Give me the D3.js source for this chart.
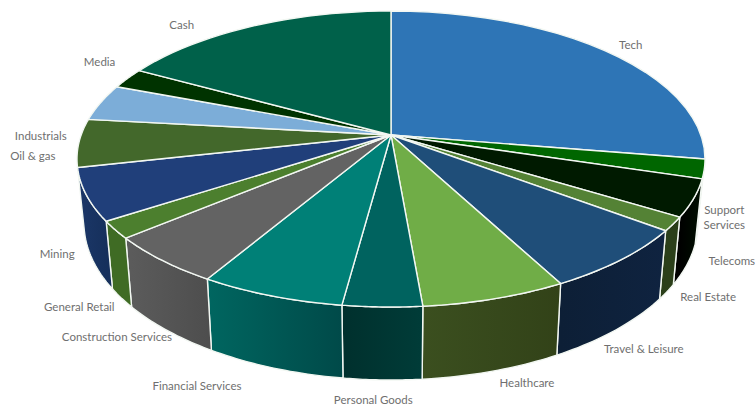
<!DOCTYPE html>
<html>
<head>
<meta charset="utf-8">
<script src="https://cdn.jsdelivr.net/npm/d3@7/dist/d3.min.js"></script>
<style>
  html, body { margin: 0; padding: 0; background: #fff; overflow: hidden; }
  svg { display: block; }
  text { font-family: Lato, "Open Sans", sans-serif; font-size: 11.5px; fill: #6f6f6f; }
</style>
</head>
<body>
<svg id="chart" width="756" height="407"></svg>
<script>
// Portfolio weights by sector, clockwise from twelve o'clock (percent)
const sectors = ["Tech", "Support Services", "Telecoms", "Real Estate", "Travel & Leisure",
  "Healthcare", "Personal Goods", "Financial Services", "Construction Services",
  "General Retail", "Mining", "Oil & gas", "Industrials", "Media", "Cash"];
const weights = [27.6, 2.1, 4.05, 1.5, 7.0, 6.4, 3.5, 6.4, 5.4, 1.9, 5.7, 5.25, 4.0, 2.25, 17.0];

const topColors = ["#2e75b6", "#006600", "#001a00", "#548235", "#1f4e79",
  "#70ad47", "#00635f", "#008077", "#636363", "#4c7f2e",
  "#203f7a", "#43682b", "#7cadd8", "#003300", "#00614a"];
const wallLeft = ["#1f5080", "#003300", "#000000", "#2b3f1a", "#0d1f36",
  "#3b4f1f", "#00302d", "#006660", "#5c5c5c", "#3f6b24",
  "#1b3768", "#2c451b", "#527599", "#001a00", "#00402f"];
const wallRight = ["#1f5080", "#003300", "#001000", "#2b3f1a", "#0f2340",
  "#324218", "#003c38", "#004a49", "#4e4e4e", "#3f6b24",
  "#16305c", "#2c451b", "#527599", "#001a00", "#00402f"];

// Label placement relative to each slice's rim midpoint
const labelDx = [26, 20, 38, 35, 23, 32, -9, -74, -45, -36, -29, -46, -60, -28, -71];
const labelDy = [-6, 49, 63, 73, 89, 84, 93, 90, 77, 77, 59, 13, 33, -16, -1];
const labelLines = { "Support Services": ["Support", "Services"] };

const svg = d3.select("#chart");

// The disc is tilted: the hub sits above the centre of the visible ellipse.
const tilt = 0.162;
const topX = d3.scaleLinear().domain([-1, 1]).range([77, 705]);
const topY = d3.scaleLinear().domain([-1, 1]).range([11, 307]);
const baseX = d3.scaleLinear().domain([-1, 1]).range([84, 698]);
const baseY = d3.scaleLinear().domain([-1, 1]).range([66, 380]);

// Perspective map from an angle on the disc to unit-ellipse coordinates
function rimPoint(angle, radius = 1) {
  const u = radius * Math.sin(angle), v = -radius * Math.cos(angle);
  const w = 1 - tilt * v;
  return [u * Math.sqrt(1 - tilt * tilt) / w, (v - tilt) / w];
}
const onTop = p => [topX(p[0]), topY(p[1])];
const onBase = p => [baseX(p[0]), baseY(p[1])];

const pieData = d3.pie().sort(null).value(d => d.w).startAngle(0).endAngle(2 * Math.PI)
  (weights.map((w, i) => ({ w, i })));

const path = d3.line();
const samples = a => d3.range(0, 25).map(k => a.startAngle + (a.endAngle - a.startAngle) * k / 24);

const defs = svg.append("defs");
pieData.forEach(a => {
  const xs = samples(a).map(t => onTop(rimPoint(t))[0]);
  const g = defs.append("linearGradient")
    .attr("id", "wall" + a.data.i)
    .attr("gradientUnits", "userSpaceOnUse")
    .attr("x1", d3.min(xs)).attr("x2", d3.max(xs))
    .attr("y1", 0).attr("y2", 0);
  g.append("stop").attr("offset", 0).attr("stop-color", wallLeft[a.data.i]);
  g.append("stop").attr("offset", 1).attr("stop-color", wallRight[a.data.i]);
});

// Outer walls, only the part of the disc facing the viewer
const walls = pieData.filter(a => rimPoint((a.startAngle + a.endAngle) / 2)[1] > 0);
svg.append("g").selectAll("path").data(walls).join("path")
  .attr("d", a => {
    const ts = samples(a);
    const upper = ts.map(t => onTop(rimPoint(t)));
    const lower = ts.slice().reverse().map(t => onBase(rimPoint(t)));
    return path(upper.concat(lower)) + "Z";
  })
  .attr("fill", a => `url(#wall${a.data.i})`)
  .attr("stroke", "#f2f7f2")
  .attr("stroke-width", 1.4)
  .attr("stroke-linejoin", "round");

// Top face
const hub = onTop(rimPoint(0, 0));
svg.append("g").selectAll("path").data(pieData).join("path")
  .attr("d", a => path([hub].concat(samples(a).map(t => onTop(rimPoint(t))))) + "Z")
  .attr("fill", a => topColors[a.data.i])
  .attr("stroke", "#f2f7f2")
  .attr("stroke-width", 1.4)
  .attr("stroke-linejoin", "round");

// Category labels
const labels = svg.append("g").selectAll("text").data(pieData).join("text")
  .attr("text-anchor", "middle")
  .attr("transform", a => {
    const [x, y] = onTop(rimPoint((a.startAngle + a.endAngle) / 2));
    return `translate(${x + labelDx[a.data.i]},${y + labelDy[a.data.i]})`;
  });
labels.each(function (a) {
  const name = sectors[a.data.i];
  const lines = labelLines[name] || [name];
  d3.select(this).selectAll("tspan").data(lines).join("tspan")
    .attr("x", 0)
    .attr("y", (d, k) => (k - (lines.length - 1) / 2) * 15 + 4)
    .text(d => d);
});
</script>
</body>
</html>
